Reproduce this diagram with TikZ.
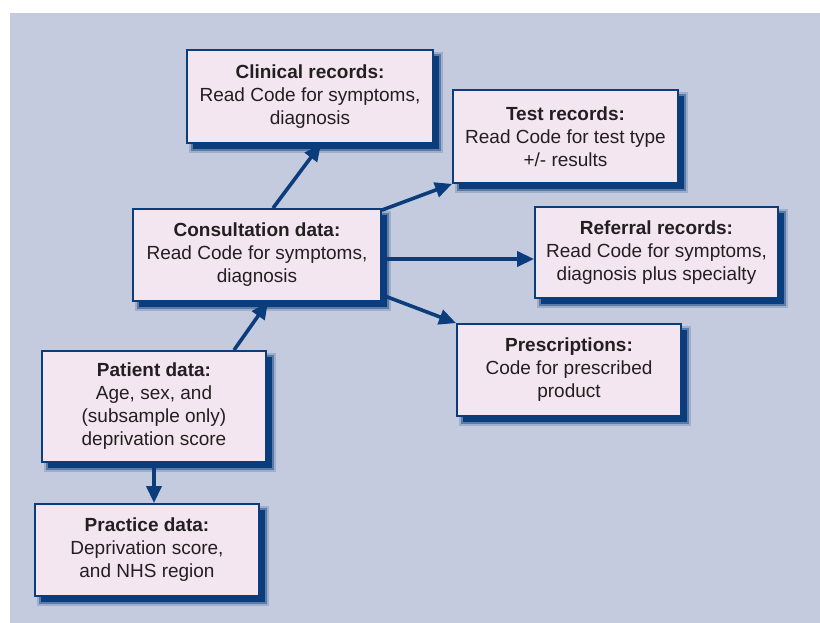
\documentclass[tikz,border=0pt]{standalone}
\usepackage{fontspec}
\setmainfont{Liberation Sans}
\usetikzlibrary{arrows.meta,shadows}
\definecolor{bg}{HTML}{C5CBDF}
\definecolor{boxfill}{HTML}{F3E6F1}
\definecolor{navy}{HTML}{0B3D7C}
\definecolor{txt}{HTML}{231F20}
\begin{document}
\begin{tikzpicture}[x=1pt,y=-1pt,
  box/.style={draw=navy, line width=1.8pt, fill=boxfill, text=txt, align=center,
    inner sep=0pt, font=\fontsize{19}{23}\selectfont,
    general shadow={fill=navy, draw=navy, line width=8pt, opacity=0.2, shadow xshift=6pt, shadow yshift=-6pt},
    general shadow={fill=navy, draw=navy, line width=4pt, opacity=0.45, shadow xshift=6pt, shadow yshift=-6pt},
    general shadow={fill=navy, shadow xshift=6pt, shadow yshift=-6pt}},
  link/.style={draw=navy, line width=3.6pt, -{Triangle[length=17pt,width=15pt]}}]
\useasboundingbox (0,0) rectangle (820,623);
\fill[white] (0,0) rectangle (820,623);
\fill[bg] (10,13) rectangle (820,623);

\node[box, minimum width=246pt, minimum height=93pt] (clin) at (310,96.5)
  {\textbf{Clinical records:}\\Read Code for symptoms,\\diagnosis};
\node[box, minimum width=225pt, minimum height=93pt] (test) at (565.5,136.5)
  {\textbf{Test records:}\\Read Code for test type\\+/- results};
\node[box, minimum width=248pt, minimum height=92pt] (cons) at (257,255)
  {\textbf{Consultation data:}\\Read Code for symptoms,\\diagnosis};
\node[box, minimum width=243pt, minimum height=91pt] (ref) at (656.5,252.5)
  {\textbf{Referral records:}\\Read Code for symptoms,\\diagnosis plus specialty};
\node[box, minimum width=224pt, minimum height=92pt] (pres) at (569,370)
  {\textbf{Prescriptions:}\\Code for prescribed\\product};
\node[box, minimum width=224pt, minimum height=111pt] (pat) at (154,406.5)
  {\textbf{Patient data:}\\Age, sex, and\\(subsample only)\\deprivation score};
\node[box, minimum width=224pt, minimum height=92pt] (prac) at (147,550)
  {\textbf{Practice data:}\\Deprivation score,\\and NHS region};

\draw[link] ([xshift=80pt]pat.north) -- ([xshift=11pt]cons.south);
\draw[link] ([xshift=16pt]cons.north) -- ([xshift=11pt]clin.south);
\draw[link] ([yshift=-2pt]cons.north east) -- (test.south west);
\draw[link] ([yshift=-4pt]cons.east) -- ([yshift=-4pt]cons.east -| ref.west);
\draw[link] ([yshift=7pt]cons.south east) -- (pres.north west);
\draw[link] (pat.south) -- (pat.south |- prac.north);
\end{tikzpicture}
\end{document}
